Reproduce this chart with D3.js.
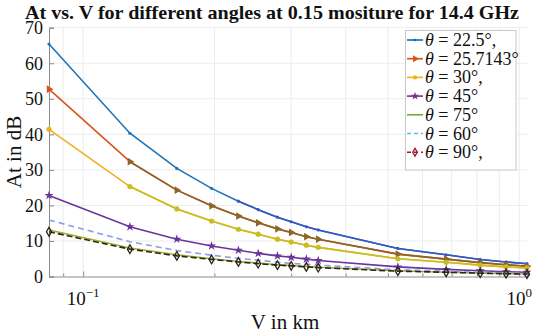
<!DOCTYPE html>
<html><head><meta charset="utf-8">
<script src="https://cdn.jsdelivr.net/npm/d3@7"></script>
<style>
body{margin:0;background:#fff;}
svg{display:block;}
text{font-family:"Liberation Serif","Times New Roman",serif;fill:#111;}
</style>
</head><body><svg id="c" width="550" height="335"></svg>
<script>
// ---- data ----
const vKm   = [0.0835, 0.128, 0.164, 0.197, 0.227, 0.252, 0.279, 0.300, 0.325, 0.346, 0.527, 0.680, 0.814, 0.933, 1.042];
const at22_5 = [65.4, 40.3, 30.4, 24.8, 21.2, 18.8, 16.7, 15.4, 14.0, 13.1, 7.9, 6.1, 4.8, 4.1, 3.6];
const at25_7 = [52.7, 32.3, 24.3, 19.9, 17.0, 15.1, 13.4, 12.4, 11.2, 10.5, 6.3, 4.9, 3.9, 3.3, 2.9];
const at30   = [41.4, 25.3, 19.0, 15.6, 13.3, 11.9, 10.5, 9.7, 8.8, 8.2, 5.0, 4.0, 3.2, 2.7, 2.4];
const at45   = [22.8, 14.0, 10.5, 8.6, 7.4, 6.5, 5.8, 5.4, 4.9, 4.5, 2.7, 2.0, 1.6, 1.35, 1.2];
const at60   = [15.9, 9.8, 7.3, 6.0, 5.1, 4.6, 4.0, 3.7, 3.4, 3.2, 1.9, 1.5, 1.2, 1.0, 0.9];
const at75   = [13.1, 8.0, 6.1, 5.0, 4.2, 3.8, 3.3, 3.1, 2.8, 2.6, 1.6, 1.2, 0.97, 0.82, 0.72];
const at90   = [12.6, 7.7, 5.8, 4.8, 4.1, 3.6, 3.2, 3.0, 2.7, 2.5, 1.5, 1.2, 0.93, 0.79, 0.69];
const angleLabels = ["22.5°,", "25.7143°", "30°,", "45°", "75°", "60°", "90°,"];
const seriesData  = [at22_5, at25_7, at30, at45, at75, at60, at90];
const yTicks = [0, 10, 20, 30, 40, 50, 60, 70];
const xMajorTicks = [0.1, 1];
const xMajorExp = ["−1", "0"];
const xMinorTicks = [0.09, 0.2, 0.3, 0.4, 0.5, 0.6, 0.7, 0.8, 0.9];

// ---- styles (separate from data) ----
const legendColor = ["#0072BD", "#D95319", "#EDB120", "#7E2F8E", "#77AC30", "#4DBEEE", "#A2142F"];
const plotColor   = ["#1f74b8", "#D95319", "#EDB120", "#6a359a", "#9fb02c", "#8b9ce8", "#2e2418"];
const tailColor   = ["#3a56c0", "#8c6626", "#c9bd22", null, null, null, null];
const tailStart   = [4, 1, 1, 0, 0, 0, 0];
const dash        = [null, null, null, null, null, "6,4", "6,3"];
const markerType  = ["dot", "tri", "circ", "star", null, null, "diam"];

const svg = d3.select("#c");
const L = 49, R = 527, T = 27.7, B = 276.5;
const x = d3.scaleLog().domain([vKm[0], vKm[vKm.length - 1]]).range([L, R]);
const y = d3.scaleLinear().domain([0, 70]).range([B, T]);

// grid
const grid = svg.append("g");
grid.selectAll("line.gy").data(yTicks.slice(1)).join("line")
  .attr("x1", L).attr("x2", R).attr("y1", d => y(d)).attr("y2", d => y(d))
  .attr("stroke", "#ececec").attr("stroke-width", 1);
grid.selectAll("line.gx").data(xMinorTicks.concat(xMajorTicks)).join("line")
  .attr("y1", T).attr("y2", B).attr("x1", d => x(d)).attr("x2", d => x(d))
  .attr("stroke", "#ececec").attr("stroke-width", 1);

// axes
const ax = svg.append("g").attr("transform", `translate(${L},0)`)
  .call(d3.axisLeft(y).tickValues(yTicks).tickSize(-5).tickPadding(6).tickFormat(d3.format("d")));
ax.select(".domain").attr("stroke", "#8a8a8a");
ax.selectAll(".tick line").attr("stroke", "#8a8a8a");
ax.selectAll(".tick text").attr("font-size", 18).attr("font-family", "Liberation Serif").attr("fill", "#111");

const bx = svg.append("g").attr("transform", `translate(0,${B})`)
  .call(d3.axisBottom(x).tickValues(xMajorTicks).tickSize(-5).tickFormat(""));
bx.select(".domain").attr("stroke", "#8a8a8a");
bx.selectAll(".tick line").attr("stroke", "#8a8a8a");
const bxm = svg.append("g").attr("transform", `translate(0,${B})`)
  .call(d3.axisBottom(x).tickValues(xMinorTicks).tickSize(-3).tickFormat(""));
bxm.select(".domain").remove();
bxm.selectAll(".tick line").attr("stroke", "#8a8a8a");

xMajorTicks.forEach((v, i) => {
  const t = svg.append("text").attr("x", x(v)).attr("y", 305).attr("text-anchor", "middle").attr("font-size", 19);
  t.append("tspan").text("10");
  t.append("tspan").attr("font-size", 13).attr("dy", -8).text(xMajorExp[i]);
});

// labels
svg.append("text").attr("x", 272).attr("y", 18.5).attr("text-anchor", "middle")
  .attr("font-size", 19.5).attr("font-weight", "bold")
  .attr("textLength", 494).attr("lengthAdjust", "spacingAndGlyphs")
  .text("At vs. V for different angles at 0.15 mositure for 14.4 GHz");
svg.append("text").attr("transform", "translate(21,152) rotate(-90)").attr("text-anchor", "middle")
  .attr("font-size", 21).text("At in dB");
svg.append("text").attr("x", 285).attr("y", 329).attr("text-anchor", "middle")
  .attr("font-size", 21).text("V in km");

// markers
function marker(g, type, cx, cy, color, scale) {
  const s = scale || 1;
  if (type === "dot") g.append("circle").attr("cx", cx).attr("cy", cy).attr("r", 1.6 * s).attr("fill", color);
  else if (type === "tri") g.append("path").attr("d", d3.symbol(d3.symbolTriangle, 26 * s)())
    .attr("transform", `translate(${cx},${cy}) rotate(90)`).attr("fill", color);
  else if (type === "circ") g.append("circle").attr("cx", cx).attr("cy", cy).attr("r", 2.6 * s).attr("fill", color);
  else if (type === "star") g.append("path").attr("d", d3.symbol(d3.symbolStar, 26 * s)())
    .attr("transform", `translate(${cx},${cy})`).attr("fill", color);
  else if (type === "diam") g.append("path").attr("d", d3.symbol(d3.symbolDiamond, 22 * s)())
    .attr("transform", `translate(${cx},${cy})`).attr("fill", "none").attr("stroke", color).attr("stroke-width", 1.3);
}

// series
const line = d3.line().x(d => x(d[0])).y(d => y(d[1]));
seriesData.forEach((vals, si) => {
  const g = svg.append("g");
  const pts = vals.map((v, i) => [vKm[i], v]);
  g.append("path").attr("d", line(pts)).attr("fill", "none")
    .attr("stroke", plotColor[si]).attr("stroke-width", 1.6)
    .attr("stroke-dasharray", dash[si]);
  if (tailColor[si]) {
    g.append("path").attr("d", line(pts.slice(tailStart[si]))).attr("fill", "none")
      .attr("stroke", tailColor[si]).attr("stroke-width", 1.6);
  }
  if (markerType[si]) {
    pts.forEach((p, i) => {
      const c = (tailColor[si] && i >= tailStart[si]) ? tailColor[si] : plotColor[si];
      marker(g, markerType[si], x(p[0]), y(p[1]), c);
    });
  }
});

// legend
const lg = svg.append("g");
lg.append("rect").attr("x", 405.5).attr("y", 30.5).attr("width", 110.5).attr("height", 139.5)
  .attr("fill", "#fff").attr("stroke", "#c8c8c8").attr("stroke-width", 1);
angleLabels.forEach((lab, i) => {
  const cy = 40 + i * 18.7;
  lg.append("line").attr("x1", 407).attr("x2", 423).attr("y1", cy).attr("y2", cy)
    .attr("stroke", legendColor[i]).attr("stroke-width", 1.6)
    .attr("stroke-dasharray", dash[i] ? "4,3" : null);
  if (markerType[i]) marker(lg, markerType[i], 415, cy, legendColor[i], 0.8);
  const t = lg.append("text").attr("x", 425).attr("y", cy + 6).attr("font-size", 18);
  t.append("tspan").attr("font-style", "italic").text("θ");
  t.append("tspan").text(" = " + lab);
});
</script>
</body></html>
